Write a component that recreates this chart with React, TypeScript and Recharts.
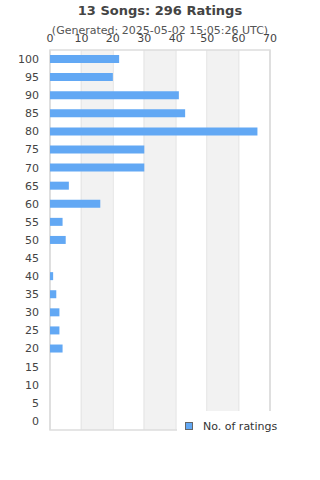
import React from 'react';
import { ComposedChart, Bar, XAxis, YAxis, CartesianGrid, ReferenceArea } from 'recharts';

const categories = ['100', '95', '90', '85', '80', '75', '70', '65', '60', '55', '50', '45', '40', '35', '30', '25', '20', '15', '10', '5', '0'];
const ratings = [22, 20, 41, 43, 66, 30, 30, 6, 16, 4, 5, 0, 1, 2, 3, 3, 4, 0, 0, 0, 0];
const xTicks = [0, 10, 20, 30, 40, 50, 60, 70];
const bands = [[10, 20], [30, 40], [50, 60]];

const data = categories.map((c, i) => ({ score: c, count: ratings[i] }));

const FONT = 'DejaVu Sans, sans-serif';
const BAR_COLOR = '#62a8f4';

export default function App() {
  return (
    <div style={{ position: 'absolute', left: 0, top: 0, width: 320, height: 480, background: '#fff' }}>
      <ComposedChart
        width={320}
        height={480}
        data={data}
        layout="vertical"
        margin={{ top: 20, right: 50, bottom: 50, left: 0 }}
        barCategoryGap={0}
      >
        <text x={160} y={15} textAnchor="middle" fontFamily={FONT} fontSize={13} fontWeight="bold" fill="#444">
          13 Songs: 296 Ratings
        </text>
        <text x={160} y={34} textAnchor="middle" fontFamily={FONT} fontSize={11} fill="#555">
          (Generated: 2025-05-02 15:05:26 UTC)
        </text>
        {bands.map(([a, b]) => (
          <ReferenceArea key={a} x1={a} x2={b} fill="#f2f2f2" fillOpacity={1} stroke="none" ifOverflow="hidden" />
        ))}
        <CartesianGrid horizontal={false} vertical={true} stroke="#dddddd" strokeWidth={1.5} />
        <ReferenceArea x1={0} x2={70} fill="none" stroke="#dddddd" strokeWidth={1.5} />
        <XAxis
          type="number"
          orientation="top"
          domain={[0, 70]}
          ticks={xTicks}
          interval={0}
          axisLine={false}
          tickLine={false}
          tickSize={0}
          tickMargin={8}
          tick={{ fontFamily: FONT, fontSize: 11, fill: '#444' }}
          height={30}
        />
        <YAxis
          type="category"
          dataKey="score"
          width={50}
          axisLine={false}
          tickLine={false}
          tickSize={0}
          tickMargin={11}
          interval={0}
          tick={{ fontFamily: FONT, fontSize: 11, fill: '#444' }}
        />
        <Bar dataKey="count" name="No. of ratings" fill={BAR_COLOR} barSize={8} isAnimationActive={false} />
      </ComposedChart>
      <div style={{ position: 'absolute', left: 177, top: 411, width: 110, height: 30, background: '#fff', display: 'flex', alignItems: 'center', fontFamily: FONT, fontSize: 11, color: '#333' }}>
        <span style={{ display: 'inline-block', width: 6, height: 6, background: BAR_COLOR, border: '1px solid #666', marginLeft: 8, marginRight: 10 }} />
        <span>No. of ratings</span>
      </div>
    </div>
  );
}
